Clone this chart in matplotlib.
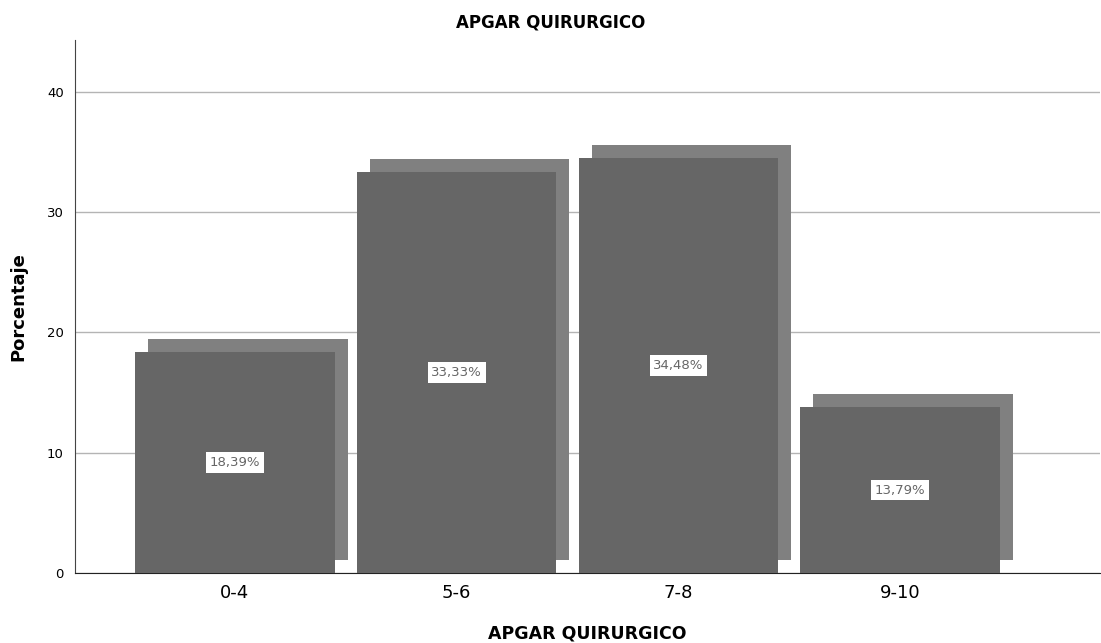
import matplotlib
matplotlib.use("Agg")
import matplotlib.pyplot as plt
from matplotlib.patches import Rectangle

categories = ["0-4", "5-6", "7-8", "9-10"]
percentages = [18.39, 33.33, 34.48, 13.79]
value_labels = ["18,39%", "33,33%", "34,48%", "13,79%"]
y_ticks = [0, 10, 20, 30, 40]

front_color = "#666666"
shadow_color = "#808080"

fig = plt.figure(figsize=(11.01, 6.43), dpi=100)
ax = fig.add_axes([75 / 1101, 70 / 643, 1025 / 1101, 533 / 643])

bar_w = 0.9
dx, dy = 0.0586, 1.08  # depth offset of the back face

for i, v in enumerate(percentages):
    # back face
    ax.add_patch(Rectangle((i - bar_w / 2 + dx, dy), bar_w, v, facecolor=shadow_color,
                           edgecolor="none", zorder=2))
for i, (v, lab) in enumerate(zip(percentages, value_labels)):
    ax.add_patch(Rectangle((i - bar_w / 2, 0), bar_w, v, facecolor=front_color,
                           edgecolor="none", zorder=3))
    ax.text(i, v / 2, lab, ha="center", va="center", fontsize=9.5, color="#666666",
            zorder=4, bbox=dict(boxstyle="square,pad=0.28", facecolor="white", edgecolor="none"))

ax.set_xlim(-0.72, 3.9)
ax.set_ylim(0, 44.3)
ax.set_xticks(range(len(categories)))
ax.set_xticklabels(categories, fontsize=13)
ax.set_yticks(y_ticks)
ax.set_yticklabels([str(t) for t in y_ticks], fontsize=9.5)
ax.tick_params(axis="both", length=0)
ax.tick_params(axis="x", pad=8)
ax.tick_params(axis="y", pad=8)

ax.yaxis.grid(True, color="#b4b4b4", linewidth=1)
ax.set_axisbelow(True)
for s in ["top", "right"]:
    ax.spines[s].set_visible(False)
ax.spines["left"].set_color("#444444")
ax.spines["bottom"].set_color("#222222")

ax.set_ylabel("Porcentaje", fontsize=13, fontweight="bold", labelpad=14)
ax.set_xlabel("APGAR QUIRURGICO", fontsize=12.5, fontweight="bold", labelpad=16)
fig.text(0.5, 1 - 22 / 643, "APGAR QUIRURGICO", ha="center", va="center",
         fontsize=12, fontweight="bold")

fig.savefig("out.png", dpi=100, facecolor="white")
